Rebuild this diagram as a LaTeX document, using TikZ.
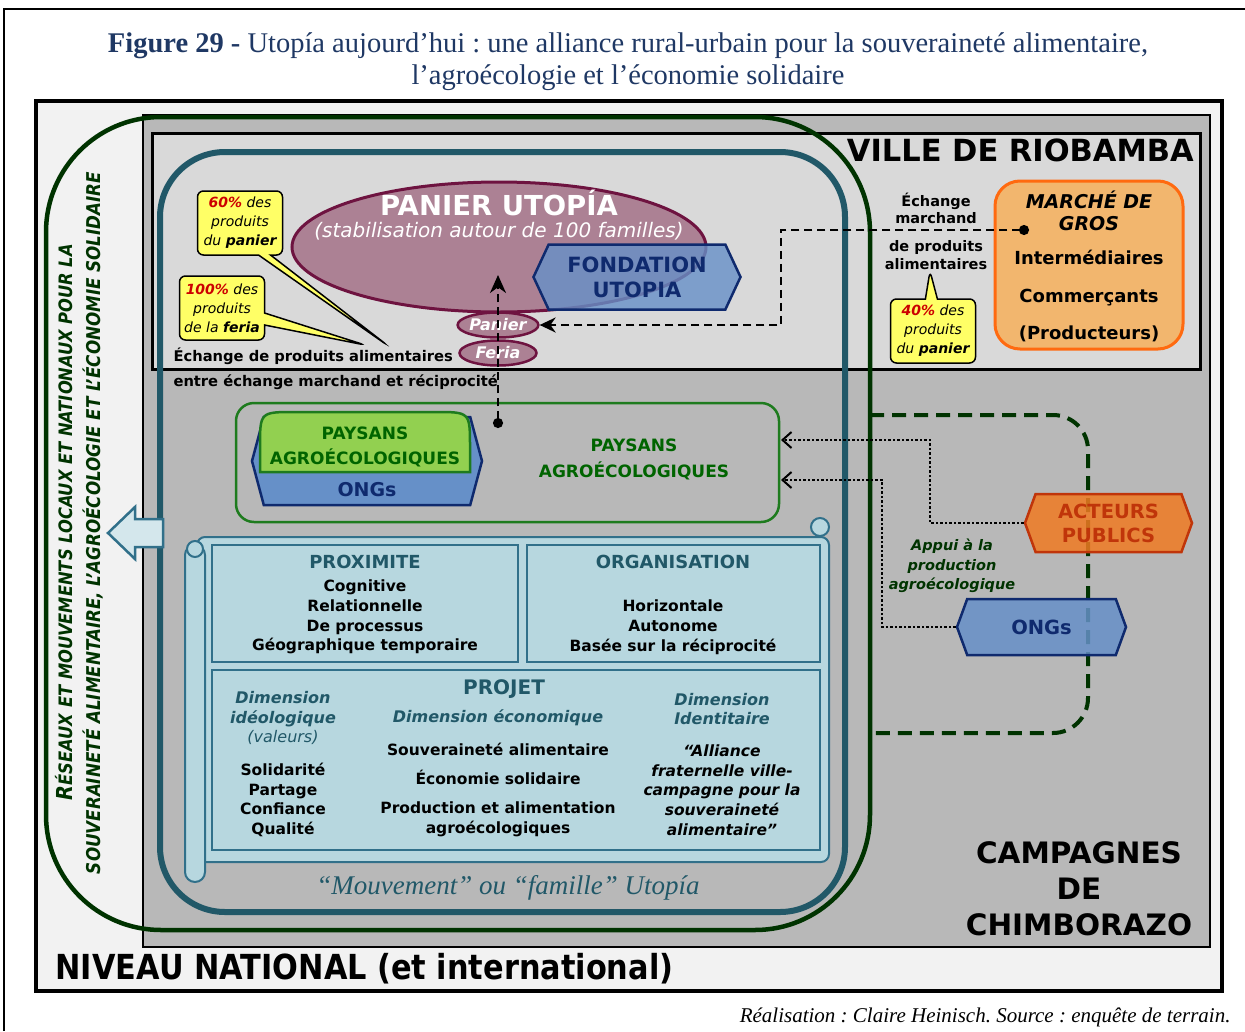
\documentclass[tikz,border=0pt]{standalone}
\usepackage{fontspec}
\setmainfont{DejaVu Sans}
\newfontfamily\titlefont{Liberation Serif}
\newfontfamily\narrowfont[FakeStretch=0.88]{DejaVu Sans}
\usetikzlibrary{arrows.meta,shapes.geometric,shapes.symbols,shapes.callouts,positioning}
\frenchspacing

\newcommand{\fsz}[2]{\fontsize{#1}{#2}\selectfont}

\definecolor{navy}{HTML}{1F3864}
\definecolor{tealdk}{HTML}{215868}
\definecolor{scrollfill}{HTML}{B7D7DF}
\definecolor{scrolledge}{HTML}{31708A}
\definecolor{netgreen}{HTML}{003300}
\definecolor{paysgreen}{HTML}{1E7B1E}
\definecolor{paystext}{HTML}{006400}
\definecolor{lightgreen}{HTML}{92D050}
\definecolor{hexblue}{HTML}{6690C8}
\definecolor{hexedge}{HTML}{0F2A6E}
\definecolor{mauve}{HTML}{AC8194}
\definecolor{maroon}{HTML}{6E1340}
\definecolor{marchefill}{HTML}{F2B66E}
\definecolor{marcheedge}{HTML}{FF6A10}
\definecolor{actfill}{HTML}{F07A22}
\definecolor{actedge}{HTML}{C0350A}
\definecolor{callfill}{HTML}{FFFF66}
\definecolor{pctred}{HTML}{CC0000}
\definecolor{natbg}{HTML}{F2F2F2}
\definecolor{campbg}{HTML}{B8B8B8}
\definecolor{villebg}{HTML}{D9D9D9}

\begin{document}
\begin{tikzpicture}[
    x=1pt, y=-1pt,
    hexa/.style={signal, signal to=east and west, signal pointer angle=130, draw=hexedge, fill=hexblue, line width=2.5pt, inner sep=0, text=hexedge, font=\bfseries\fsz{21}{25}, align=center},
    pct/.style={rectangle callout, draw, fill=callfill, line width=1.5pt, rounded corners=6pt, align=center, font=\itshape\fsz{14}{19}, inner sep=2pt, minimum width=85pt, minimum height=64pt, callout pointer width=12pt},
    minipan/.style={ellipse, draw=maroon, fill=mauve, line width=2.5pt, text=white, font=\bfseries\itshape\fsz{16}{18}, minimum width=77pt, minimum height=25pt, inner sep=0},
    innerbox/.style={draw=scrolledge, fill=scrollfill, line width=1.5pt},
    boxtitle/.style={text=tealdk, font=\bfseries\fsz{18}{20}},
    boxtext/.style={font=\bfseries\fsz{15.5}{19.75}, align=center},
    dimtext/.style={text=tealdk, font=\bfseries\itshape\fsz{16}{19.5}, align=center},
    dashline/.style={line width=2.5pt, dash pattern=on 8pt off 5pt},
    dotarrow/.style={dotted, line width=2.5pt, -{Straight Barb[length=9pt,width=16pt,line width=2pt]}}
  ]
    \useasboundingbox (0,0) rectangle (1245,1031);

    % Page frame and title
    \draw[line width=1.5pt] (4,1031) -- (4,9) -- (1245,9);
    \node[font=\titlefont\fsz{28.5}{32}, text=navy, align=center] (title) at (628,62)
      {\textbf{Figure 29 -} Utopía aujourd’hui : une alliance rural-urbain pour la souveraineté alimentaire,\\l’agroécologie et l’économie solidaire};

    % Nested levels
    \draw[line width=4pt, fill=natbg] (36,101) rectangle (1222,991);
    \draw[line width=2.5pt, fill=campbg] (143,115) rectangle (1210,947);
    \draw[line width=3pt, fill=villebg] (152,133) rectangle (1200,369);
    \node[font=\bfseries\fsz{30.5}{32}, anchor=north east, inner sep=0] (ville) at (1194,139) {VILLE DE RIOBAMBA};
    \node[font=\bfseries\fsz{29.5}{36}, align=center] (campagnes) at (1079,889) {CAMPAGNES\\DE\\CHIMBORAZO};
    \node[font=\narrowfont\bfseries\fsz{34.5}{36}, anchor=west] (national) at (52,969) {NIVEAU NATIONAL (et international)};

    % Networks (national) and Utopia movement outlines
    \draw[netgreen, line width=4.5pt, rounded corners=115pt] (46,117) rectangle (870,930);
    \draw[tealdk, line width=6pt, rounded corners=65pt] (160,152) rectangle (845,912);
    \node[rotate=90, font=\narrowfont\bfseries\itshape\fsz{18.5}{20}, text=netgreen] (reseaux1) at (64,522)
      {{\fsz{22}{24}R}ÉSEAUX ET MOUVEMENTS LOCAUX ET NATIONAUX POUR LA};
    \node[rotate=90, font=\narrowfont\bfseries\itshape\fsz{19}{20}, text=netgreen] (reseaux2) at (93,523)
      {SOUVERAINETÉ ALIMENTAIRE, L’AGROÉCOLOGIE ET L’ÉCONOMIE SOLIDAIRE};
    \draw[scrolledge, fill=scrollfill!60, line width=2.5pt] (163,519) -- (135,519) -- (135,507) -- (108,533) -- (135,559) -- (135,547) -- (163,547) -- cycle;

    % Panier Utopia
    \node[ellipse, draw=maroon, fill=mauve, line width=3pt, minimum width=414pt, minimum height=130pt] (panier) at (499,247) {};
    \node[text=white, font=\bfseries\fsz{27.5}{30}] (paniertxt) at (499,203) {PANIER UTOPÍA};
    \node[text=white, font=\itshape\fsz{20}{22}] (stabil) at (499,231) {(stabilisation autour de 100 familles)};
    \node[hexa, minimum width=207pt, minimum height=65pt, fill opacity=0.8, text opacity=1] (fondation) at (637,277) {FONDATION\\UTOPIA};
    \node[minipan] (pan) at (498,325) {Panier};
    \node[minipan] (feria) at (498,353) {Feria};

    % Exchange labels and callouts
    \node[font=\bfseries\fsz{14.7}{25}, align=left, anchor=west] (echange) at (170,369)
      {Échange de produits alimentaires\\entre échange marchand et réciprocité};
    \node[pct, callout absolute pointer={(387,345)}] (c60) at (240,223)
      {\textcolor{pctred}{\bfseries 60\%} des\\produits\\du \textbf{panier}};
    \node[pct, callout absolute pointer={(365,345)}] (c100) at (222,308)
      {\textcolor{pctred}{\bfseries 100\%} des\\produits\\de la \textbf{feria}};
    \node[font=\bfseries\fsz{14.5}{17}, align=center] (marchand) at (936,208) {Échange\\marchand};
    \node[font=\bfseries\fsz{14.5}{18}, align=center] (deprod) at (936,255) {de produits\\alimentaires};
    \node[pct, callout absolute pointer={(930,271)}] (c40) at (933,331)
      {\textcolor{pctred}{\bfseries 40\%} des\\produits\\du \textbf{panier}};

    % Marche de gros
    \node[draw=marcheedge, fill=marchefill, line width=3pt, rounded corners=25pt, minimum width=188pt, minimum height=168pt] (marche) at (1089,265) {};
    \node[font=\bfseries\itshape\fsz{19}{22}, align=center] (gros) at (1089,211) {MARCHÉ DE\\GROS};
    \node[font=\bfseries\fsz{18}{37.5}, align=center] (interm) at (1089,296) {Intermédiaires\\Commerçants\\(Producteurs)};
    \coordinate (mdot) at (1029,230);

    % Paysans agroecologiques
    \node[draw=paysgreen, line width=2.5pt, rounded corners=18pt, minimum width=543pt, minimum height=119pt] (paysans) at (507.5,462.5) {};
    \node[text=paystext, font=\bfseries\fsz{17}{26}, align=center] (paystxt) at (634,459) {PAYSANS\\AGROÉCOLOGIQUES};
    \node[hexa, signal pointer angle=150, minimum width=230pt, minimum height=88pt] (ongsin) at (367,461) {};
    \node[text=hexedge, font=\bfseries\fsz{19}{22}] (ongsintxt) at (367,490) {ONGs};
    \draw[paysgreen, fill=lightgreen, line width=2.5pt] (260,472) -- (260,447) .. controls (260,412) .. (295,412) -- (435,412) .. controls (470,412) .. (470,447) -- (470,472) -- cycle;
    \node[text=paystext, font=\bfseries\fsz{17}{25}, align=center] (paysin) at (365,447) {PAYSANS\\AGROÉCOLOGIQUES};

    % Public actors and NGOs
    \draw[netgreen, line width=4pt, dash pattern=on 14pt off 8pt, rounded corners=35pt] (870,415) -- (1088,415) -- (1088,733) -- (870,733);
    \node[hexa, fill=actfill, draw=actedge, text=actedge, signal pointer angle=140, minimum width=167pt, minimum height=58pt, font=\bfseries\fsz{19.5}{24}, fill opacity=0.85, text opacity=1] (acteurs) at (1108.5,523) {ACTEURS\\PUBLICS};
    \node[hexa, signal pointer angle=140, minimum width=169pt, minimum height=56pt, font=\bfseries\fsz{19.5}{24}, fill opacity=0.85, text opacity=1] (ongs) at (1041.5,627) {ONGs};
    \node[text=netgreen, font=\bfseries\itshape\fsz{14.5}{19.5}, align=center] (appui) at (952,566) {Appui à la\\production\\agroécologique};

    % Scroll with the three frames
    \draw[innerbox, line width=2pt, rounded corners=8pt] (197,537) rectangle (829,862);
    \draw[innerbox, line width=2pt] (820,527) circle (9);
    \draw[innerbox, line width=2pt, rounded corners=10pt] (185,545) rectangle (205,882);
    \draw[innerbox, line width=2pt] (195,549) circle (8);
    \node[innerbox, minimum width=306pt, minimum height=117pt] (proxi) at (365,603.5) {};
    \node[innerbox, minimum width=293pt, minimum height=117pt] (orga) at (673.5,603.5) {};
    \node[innerbox, minimum width=608pt, minimum height=180pt] (projet) at (516,760) {};
    \node[boxtitle] (proxititle) at (365,562) {PROXIMITE};
    \node[boxtext] (proxitxt) at (365,617) {Cognitive\\Relationnelle\\De processus\\Géographique temporaire};
    \node[boxtitle] (orgatitle) at (673,562) {ORGANISATION};
    \node[boxtext] (orgatxt) at (673,627) {Horizontale\\Autonome\\Basée sur la réciprocité};
    \node[boxtitle, font=\bfseries\fsz{20}{22}] (projtitle) at (504,689) {PROJET};
    \node[dimtext] (ideo) at (283,718) {Dimension\\idéologique\\{\mdseries(valeurs)}};
    \node[boxtext] (valeurs) at (283,800) {Solidarité\\Partage\\Confiance\\Qualité};
    \node[dimtext] (econ) at (498,718) {Dimension économique};
    \node[boxtext] (econtxt) at (498,790) {Souveraineté alimentaire\\[9pt]Économie solidaire\\[9pt]Production et alimentation\\agroécologiques};
    \node[dimtext] (ident) at (722,709) {Dimension\\Identitaire};
    \node[boxtext, font=\bfseries\itshape\fsz{15.5}{19.75}] (alliance) at (722,790) {“Alliance\\fraternelle ville-\\campagne pour la\\souveraineté\\alimentaire”};
    \node[font=\titlefont\itshape\fsz{27}{30}, text=tealdk] (mouvement) at (508,888) {“Mouvement” ou “famille” Utopía};

    % Flows
    \draw[dashline, {Circle[length=10pt]}-{Stealth[length=18pt,width=16pt]}] (498,428) -- (498,275);
    \draw[dashline, {Circle[length=10pt]}-{Stealth[length=16pt,width=15pt]}] (mdot) -- (781,230) |- (pan.east);
    \draw[dotarrow] (acteurs.west) -| (930,440) -- (781,440);
    \draw[dotarrow] (ongs.west) -| (882,480) -- (781,480);

    % Source
    \node[font=\titlefont\itshape\fsz{21}{22}, anchor=east] (source) at (1234,1017) {Réalisation : Claire Heinisch. Source : enquête de terrain.};
\end{tikzpicture}
\end{document}
